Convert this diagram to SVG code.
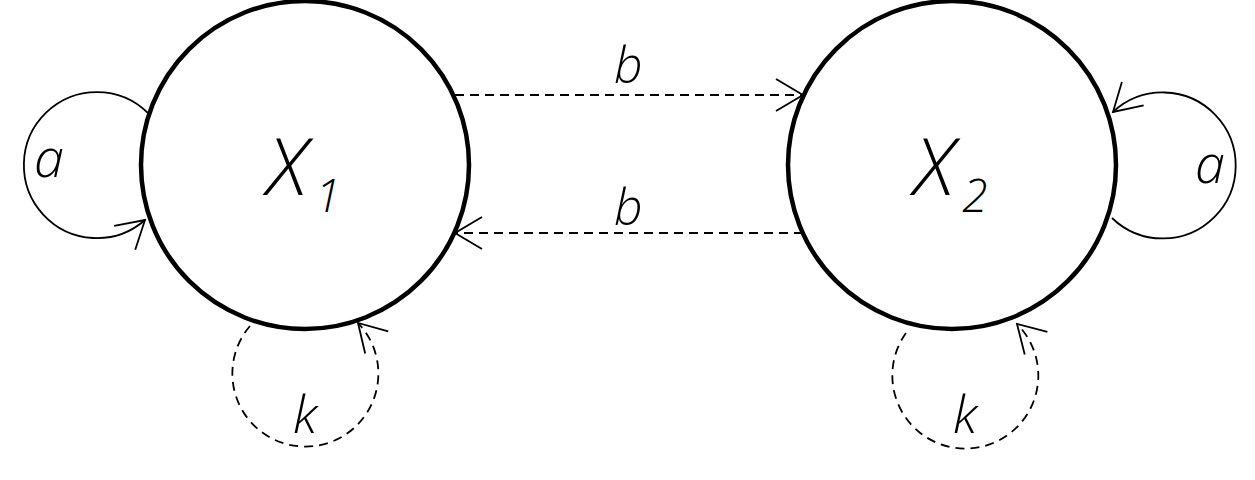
<svg xmlns="http://www.w3.org/2000/svg" width="1255" height="480" viewBox="0 0 1255 480">
<style>
.node{fill:none;stroke:#000;stroke-width:4.5}
.edge{fill:none;stroke:#000;stroke-width:1.8}
.dash{stroke-dasharray:9 6}
.lbl{font-family:"Open Sans","Noto Sans",sans-serif;font-style:italic;font-weight:300;fill:#000}
</style>
<defs>
<marker id="arr" markerUnits="userSpaceOnUse" markerWidth="40" markerHeight="40" viewBox="-30 -20 34 40" refX="0" refY="0" orient="auto">
<path d="M-27,-16 L0,0 L-27,16" fill="none" stroke="#000" stroke-width="1.8"/>
</marker>
</defs>
<rect width="1255" height="480" fill="#fff"/>
<g id="X1">
<circle class="node" cx="305" cy="165" r="164"/>
<text class="lbl" x="267" y="195" font-size="80">X<tspan font-size="46" dx="8" dy="17">1</tspan></text>
</g>
<g id="X2">
<circle class="node" cx="952" cy="165" r="164"/>
<text class="lbl" x="914" y="195" font-size="80">X<tspan font-size="46" dx="8" dy="17">2</tspan></text>
</g>
<g id="connectors">
<path class="edge" d="M148,113 A73,73 0 1 0 145,220" marker-end="url(#arr)"/>
<path class="edge" d="M1112,218 A73,73 0 1 0 1113,112" marker-end="url(#arr)"/>
<path class="edge dash" d="M455,95 L803,95" marker-end="url(#arr)"/>
<path class="edge dash" d="M803,233 L455,233" marker-end="url(#arr)"/>
<path class="edge dash" d="M250,326 A73,73 0 1 0 358,323" marker-end="url(#arr)"/>
<path class="edge dash" d="M906,333 A73,73 0 1 0 1017,324" marker-end="url(#arr)"/>
<text class="lbl" x="34" y="177" font-size="54">a</text>
<text class="lbl" x="1195" y="183" font-size="54">a</text>
<text class="lbl" x="614" y="83" font-size="50">b</text>
<text class="lbl" x="614" y="225" font-size="50">b</text>
<text class="lbl" x="293" y="433" font-size="52">k</text>
<text class="lbl" x="953" y="433" font-size="52">k</text>
</g>
</svg>
